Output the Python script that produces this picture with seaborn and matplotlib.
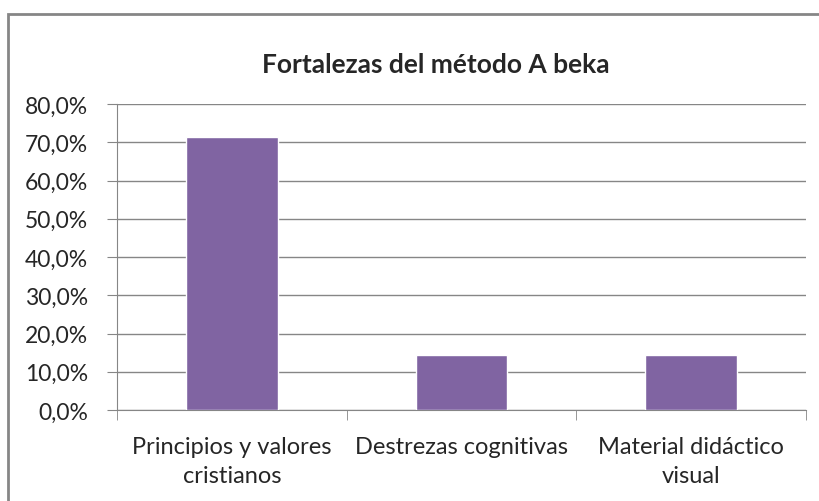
import matplotlib
matplotlib.use("Agg")
import matplotlib.pyplot as plt
import seaborn as sns
import pandas as pd
from matplotlib.patches import Rectangle
from matplotlib.ticker import FixedLocator, FuncFormatter

categories = ["Principios y valores\ncristianos", "Destrezas cognitivas", "Material didáctico\nvisual"]
values = [71.4, 14.3, 14.3]
yticks = [0, 10, 20, 30, 40, 50, 60, 70, 80]

def main():
    sns.set_style("white")
    plt.rcParams['font.family'] = ['Lato', 'DejaVu Sans']

    df = pd.DataFrame({'cat': categories, 'val': values})

    W, H = 820, 502
    fig = plt.figure(figsize=(8.2, 5.02), dpi=100)
    ax = fig.add_axes([117 / W, 1 - 411 / H, 689 / W, 306 / H])

    sns.barplot(data=df, x='cat', y='val', color='#8064A2', saturation=1,
                width=0.40, ax=ax, zorder=3)

    ax.set_ylim(0, 80)
    ax.set_xlim(-0.5, 2.5)
    ax.yaxis.set_major_locator(FixedLocator(yticks))
    ax.yaxis.set_major_formatter(FuncFormatter(lambda v, p: f"{v:.1f}%".replace('.', ',')))
    ax.grid(axis='y', color='#868686', linewidth=1, zorder=0)

    for s in ['top', 'right']:
        ax.spines[s].set_visible(False)
    ax.spines['left'].set_color('#868686')
    ax.spines['bottom'].set_color('#868686')

    ax.set_xlabel('')
    ax.set_ylabel('')
    ax.tick_params(axis='y', length=7, color='#868686', labelsize=16.5, pad=14, left=True)
    ax.tick_params(axis='x', which='major', length=0, labelsize=17, pad=19)
    ax.set_xticks([-0.5, 0.5, 1.5, 2.5], minor=True)
    ax.tick_params(axis='x', which='minor', length=7, color='#868686', bottom=True)
    for lbl in ax.get_xticklabels():
        lbl.set_linespacing(1.45)

    fig.text(436 / W, 1 - 73 / H, 'Fortalezas del método A beka',
             ha='center', va='baseline', fontsize=19, fontweight='bold')

    # chart area border, cut off at right and bottom like the reference
    fig.patches.append(Rectangle((8 / W, -0.05), 1.0, 1 - 15 / H + 0.05,
                                 transform=fig.transFigure, fill=False,
                                 edgecolor='#868686', linewidth=2))

    fig.savefig('out.png', dpi=100)
    plt.close(fig)

if __name__ == "__main__":
    main()
